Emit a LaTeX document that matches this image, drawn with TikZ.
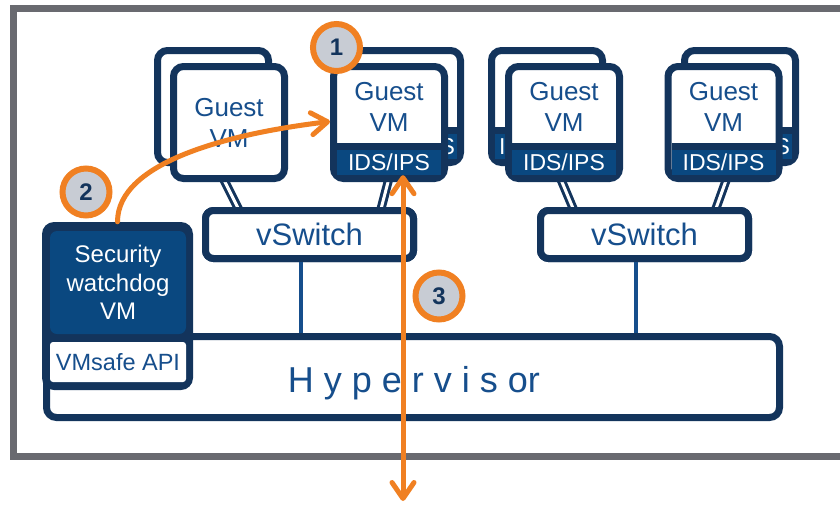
\documentclass[tikz,border=0pt]{standalone}
\usepackage{fontspec}
\setmainfont{Liberation Sans}
\usetikzlibrary{arrows.meta,calc}
\definecolor{navy}{RGB}{19,52,92}
\definecolor{midblue}{RGB}{10,72,128}
\definecolor{textblue}{RGB}{22,78,140}
\definecolor{framegray}{RGB}{105,106,112}
\definecolor{circlegray}{RGB}{200,204,212}
\definecolor{orangeA}{RGB}{240,128,34}
\begin{document}
\begin{tikzpicture}[x=1pt,y=-1pt,
  vmbox/.style={draw=navy, fill=white, line width=7pt, rounded corners=10pt, minimum width=111pt, minimum height=112pt, inner sep=0pt},
  idsfill/.style={fill=midblue, minimum width=104pt, minimum height=25pt, inner sep=0pt},
  idslabel/.style={idsfill, text=white, font=\fontsize{23}{26}\selectfont},
  idstext/.style={text=white, inner sep=0pt, font=\fontsize{23}{26}\selectfont},
  vmtext/.style={text=textblue, align=center, inner sep=0pt, font=\fontsize{26}{31}\selectfont},
  link/.style={draw=navy, line width=3pt, double=white, double distance=3pt, shorten <=-4pt, shorten >=-4pt},
  vswitch/.style={draw=navy, fill=white, line width=7pt, rounded corners=8pt, minimum width=208pt, minimum height=48pt, inner sep=0pt, text=textblue, font=\fontsize{31}{36}\selectfont},
  uplink/.style={draw=textblue, line width=4pt},
  hyperbox/.style={draw=navy, fill=white, line width=7pt, rounded corners=10pt, minimum width=733pt, minimum height=81pt, inner sep=0pt},
  numcircle/.style={circle, draw=orangeA, fill=circlegray, line width=6pt, minimum size=47pt, inner sep=0pt, text=navy, font=\bfseries\fontsize{24}{24}\selectfont},
  oarrow/.style={draw=orangeA, line width=5pt, line cap=round},
  barb/.tip={Straight Barb[round, length=16pt, width=22pt]}
]
\useasboundingbox (0,0) rectangle (840,506);
\clip (0,0) rectangle (840,506);
\draw[draw=framegray, line width=7pt] (13.5,8) rectangle (900,456);

% back boxes
\node[vmbox] (b1) at (213,106.5) {};
\foreach \n/\x/\s in {b2/405/9, b3/547/-7, b4/740/9} {
  \node[vmbox] (\n) at (\x,106.5) {};
  \fill[navy] ($(\n.south west)+(7,-7)$) rectangle ($(\n.south east)+(-7,-39)$);
  \node[idsfill] (l\n) at ($(\n.south)+(0,-19.5)$) {};
  \node[idstext] (lt\n) at ($(l\n.center)+(\s,0)$) {IDS/IPS};
}

% links from guest VMs to vSwitches (drawn below the boxes)
\node[vswitch] (vsw1) at (309.5,234.5) {vSwitch};
\node[vswitch] (vsw2) at (644.5,234.5) {vSwitch};
\coordinate (f1) at (229,182);
\coordinate (f2) at (389,182);
\coordinate (f3) at (564,182);
\coordinate (f4) at (723.5,182);
\draw[link] ([xshift=-4pt]f1) -- ([xshift=-72pt]vsw1.north);
\draw[link] ([xshift=-1pt]f2) -- ([xshift=72pt]vsw1.north);
\draw[link] ([xshift=-2pt]f3) -- ([xshift=-72pt]vsw2.north);
\draw[link] ([xshift=2pt]f4) -- ([xshift=72pt]vsw2.north);
% redraw vSwitches on top of link ends
\node[vswitch] at (vsw1) {vSwitch};
\node[vswitch] at (vsw2) {vSwitch};

% front boxes
\node[vmbox] (vm1) at (229,122.5) {};
\node[vmtext] (t1) at (vm1.center) {Guest\\VM};
\foreach \n/\x in {2/389, 3/564, 4/723.5} {
  \node[vmbox] (vm\n) at (\x,122.5) {};
  \fill[navy] ($(vm\n.south west)+(7,-7)$) rectangle ($(vm\n.south east)+(-7,-39)$);
  \node[idslabel] (ids\n) at ($(vm\n.south)+(0,-19.5)$) {IDS/IPS};
  \node[vmtext] (t\n) at ($(vm\n.center)+(0,-16)$) {Guest\\VM};
}

% hypervisor
\node[hyperbox] (hyper) at (413,377) {};
\draw[uplink] ([xshift=-8.5pt]vsw1.south) -- ([xshift=-8.5pt]vsw1.south |- hyper.north);
\draw[uplink] ([xshift=-8.5pt]vsw2.south) -- ([xshift=-8.5pt]vsw2.south |- hyper.north);
\node[anchor=base, text=textblue, inner sep=0pt, font=\fontsize{36}{40}\selectfont] (hvtext) at (414,392) {H y p e r v i s or};

% security watchdog VM block
\node[fill=navy, rounded corners=12pt, minimum width=151pt, minimum height=168pt, inner sep=0pt] (secbox) at (117.5,306) {};
\node[fill=midblue, rounded corners=7pt, minimum width=136pt, minimum height=103pt, inner sep=0pt, text=white, align=center, font=\fontsize{24}{28.5}\selectfont] (secvm) at (118,282.5) {Security\\watchdog\\VM};
\node[fill=white, rounded corners=3pt, minimum width=136pt, minimum height=40pt, inner sep=0pt, text=textblue, font=\fontsize{23.5}{27}\selectfont] (api) at (118,362) {VMsafe API};

% orange arrows
\draw[oarrow, -barb] (secbox.north) .. controls +(0,-60) and +(-100,12) .. ([yshift=1pt]vm2.west);
\coordinate (down) at (403,501);
\draw[oarrow, barb-barb] ([xshift=14pt]ids2.south) -- (down);

% step circles
\node[numcircle] (c1) at (336.5,47.5) {1};
\node[numcircle] (c2) at (86,192) {2};
\node[numcircle] (c3) at (439,296) {3};
\end{tikzpicture}
\end{document}
